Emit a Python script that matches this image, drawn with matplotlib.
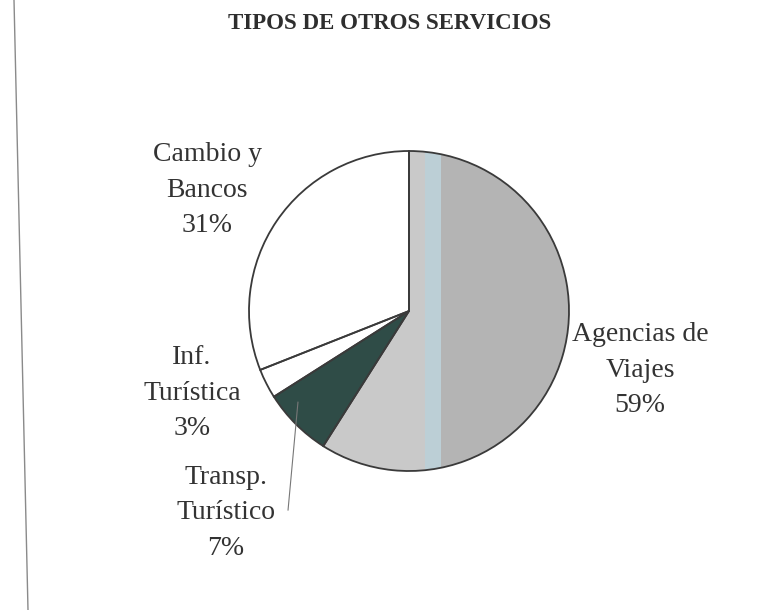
import matplotlib.pyplot as plt
from matplotlib.patches import Rectangle, PathPatch
from matplotlib.lines import Line2D

plt.rcParams['font.family'] = ['Liberation Serif', 'DejaVu Serif']

# service types and their shares (%)
labels = ['Agencias de\nViajes', 'Transp.\nTurístico', 'Inf.\nTurística', 'Cambio y\nBancos']
shares = [59, 7, 3, 31]
colors = ['#b4b4b4', '#2f4c47', '#ffffff', '#ffffff']
title = 'TIPOS DE OTROS SERVICIOS'

fig = plt.figure(figsize=(7.66, 6.10), dpi=100)
ax = fig.add_axes([217 / 766, 107 / 610, 384 / 766, 384 / 610])

wedges, _ = ax.pie(shares, colors=colors, startangle=90, counterclock=False,
                   wedgeprops=dict(edgecolor='none'))
ax.set_xlim(-1.2, 1.2)
ax.set_ylim(-1.2, 1.2)
ax.set_aspect('equal')
ax.axis('off')

# lighter band on the travel agencies slice
agencias = wedges[0]
band = Rectangle((-1.1, -1.1), 1.3, 2.2, facecolor='#c9c9c9', edgecolor='none', zorder=1.5)
ax.add_patch(band)
band.set_clip_path(agencias)
stripe = Rectangle((0.1, -1.1), 0.1, 2.2, facecolor='#bccfd6', edgecolor='none', zorder=1.6)
ax.add_patch(stripe)
stripe.set_clip_path(agencias)

# slice outlines on top of the bands
for w in wedges:
    ax.add_patch(PathPatch(w.get_path(), transform=w.get_transform(), fill=False,
                           edgecolor='#3a3a3a', linewidth=1.3, zorder=2))

txt = dict(ha='center', va='center', fontsize=20, color='#333333', linespacing=1.55)
pos = {
    'Agencias de\nViajes': (1.444, -0.37),
    'Transp.\nTurístico': (-1.144, -1.26),
    'Inf.\nTurística': (-1.356, -0.515),
    'Cambio y\nBancos': (-1.26, 0.755),
}
for lab, val in zip(labels, shares):
    x, y = pos[lab]
    ax.text(x, y, f'{lab}\n{val}%', **txt)

# leader line for the transport slice
ax.plot([-0.694, -0.756], [-0.57, -1.244], color='#777777', linewidth=0.8, clip_on=False)

fig.text(0.509, 0.962, title, ha='center', va='center', fontsize=16.5,
         fontweight='bold', color='#2e2e2e')

# page edge
fig.add_artist(Line2D([14 / 766, 28 / 766], [1, 0], color='#8a8a8a', linewidth=1.0))

fig.savefig('out.png', dpi=100, facecolor='white')
